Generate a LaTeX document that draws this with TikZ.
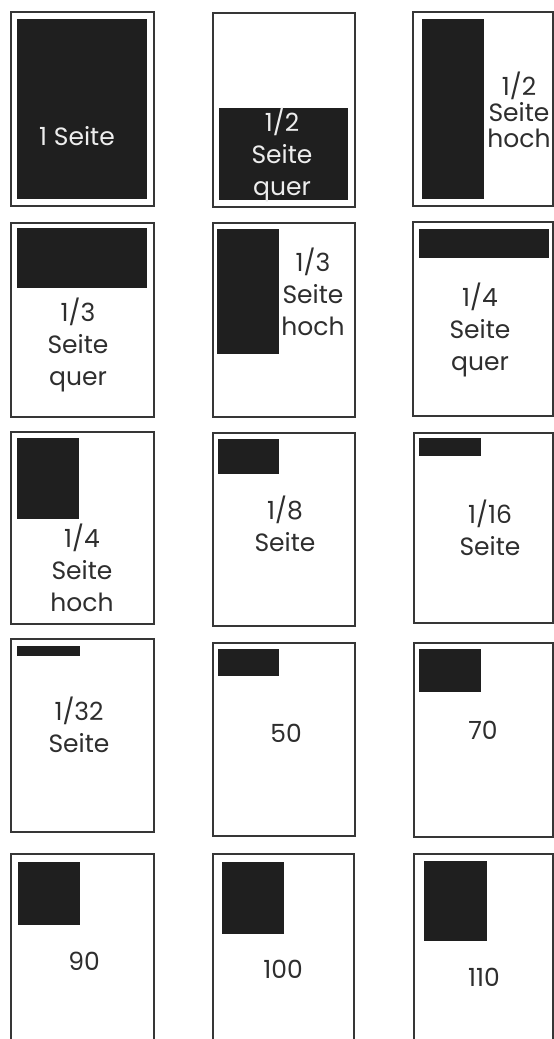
\documentclass[tikz,border=0pt]{standalone}
\usepackage{fontspec}
\setmainfont{Poppins}[Numbers=Monospaced]
\definecolor{framecol}{HTML}{363636}
\definecolor{blk}{HTML}{1F1F1F}
\definecolor{txt}{HTML}{2E2E2E}
\definecolor{wtxt}{HTML}{EDEDED}
\tikzset{
  frame/.style={draw=framecol, line width=2pt, fill=white},
  blk/.style={fill=blk, draw=none},
  lbl/.style={text=txt, font=\fontsize{25}{32}\selectfont, align=center, inner sep=0pt},
  wlbl/.style={lbl, text=wtxt},
}
\begin{document}
\begin{tikzpicture}[x=1pt,y=-1pt]
\useasboundingbox (0,0) rectangle (554,1039);
\clip (0,0) rectangle (554,1039);
\fill[white] (0,0) rectangle (554,1039);
% Row 1
\draw[frame] (11,12) rectangle (154,206);
\fill[blk] (17,19) rectangle (147,199);
\node[wlbl] (t1) at (77,136) {1 Seite};
\draw[frame] (213,13) rectangle (355,207);
\fill[blk] (219,108) rectangle (348,200);
\node[wlbl] (t2) at (282,155) {1/2\\Seite\\quer};
\draw[frame] (413,12) rectangle (553,206);
\fill[blk] (422,19) rectangle (484,199);
\node[lbl, font=\fontsize{25}{26}\selectfont] (t3) at (519,110) {1/2\\Seite\\hoch};
% Row 2
\draw[frame] (11,223) rectangle (154,417);
\fill[blk] (17,228) rectangle (147,288);
\node[lbl] (t4) at (78,345) {1/3\\Seite\\quer};
\draw[frame] (213,223) rectangle (355,417);
\fill[blk] (217,229) rectangle (279,354);
\node[lbl] (t5) at (313,292) {1/3\\Seite\\hoch};
\draw[frame] (413,222) rectangle (553,416);
\fill[blk] (419,229) rectangle (549,258);
\node[lbl] (t6) at (480,330) {1/4\\Seite\\quer};
% Row 3
\draw[frame] (11,432) rectangle (154,624);
\fill[blk] (17,438) rectangle (79,519);
\node[lbl] (t7) at (82,568) {1/4\\Seite\\hoch};
\draw[frame] (213,433) rectangle (355,626);
\fill[blk] (218,439) rectangle (279,474);
\node[lbl] (t8) at (285,524) {1/8\\Seite};
\draw[frame] (414,433) rectangle (553,623);
\fill[blk] (419,438) rectangle (481,456);
\node[lbl] (t9) at (490,528) {1/16\\Seite};
% Row 4
\draw[frame] (11,639) rectangle (154,832);
\fill[blk] (17,646) rectangle (80,656);
\node[lbl] (t10) at (79,725) {1/32\\Seite};
\draw[frame] (213,643) rectangle (355,836);
\fill[blk] (218,649) rectangle (279,676);
\node[lbl] (t11) at (286,733) {50};
\draw[frame] (414,643) rectangle (553,837);
\fill[blk] (419,649) rectangle (481,692);
\node[lbl] (t12) at (483,730) {70};
% Row 5
\draw[frame] (11,854) rectangle (154,1050);
\fill[blk] (18,862) rectangle (80,925);
\node[lbl] (t13) at (84,961) {90};
\draw[frame] (213,854) rectangle (354,1050);
\fill[blk] (222,862) rectangle (284,934);
\node[lbl] (t14) at (283,969) {100};
\draw[frame] (414,854) rectangle (553,1050);
\fill[blk] (424,861) rectangle (487,941);
\node[lbl] (t15) at (484,977) {110};
\end{tikzpicture}
\end{document}
